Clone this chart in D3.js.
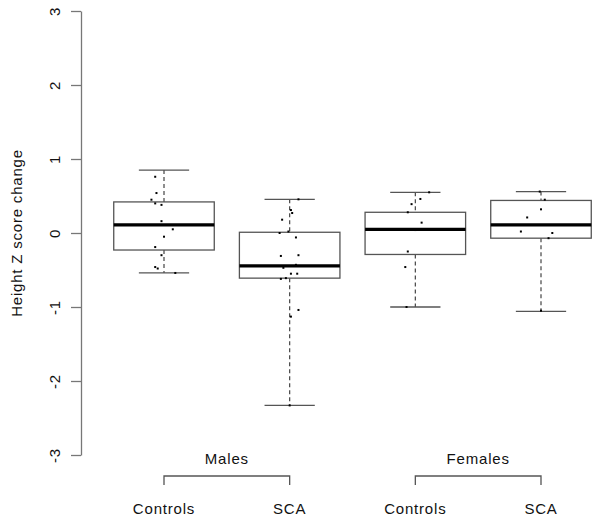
<!DOCTYPE html>
<html>
<head>
<meta charset="utf-8">
<script src="https://cdn.jsdelivr.net/npm/d3@7"></script>
<style>
  body { margin: 0; background: #fff; }
  text { font-family: "Liberation Sans", Arial, sans-serif; fill: #111; letter-spacing: 0.8px; }
</style>
</head>
<body>
<svg id="chart" width="600" height="524"></svg>
<script>
// values
const categories = ["Controls", "SCA", "Controls", "SCA"]
const groups = ["Males", "Females"]
const yTicks = [-3, -2, -1, 0, 1, 2, 3]

const whiskerHigh = [0.85, 0.455, 0.55, 0.56]
const upperQuart = [0.42, 0.01, 0.28, 0.44]
const medians = [0.11, -0.445, 0.05, 0.11]
const lowerQuart = [-0.23, -0.61, -0.29, -0.07]
const whiskerLow = [-0.54, -2.33, -1.0, -1.06]

// raw points and their horizontal jitter (in box units)
const pointsMaleCtrl = [0.76, 0.54, 0.45, 0.40, 0.38, 0.16, 0.05, -0.05, -0.19, -0.30, -0.46, -0.48, -0.54]
const jitterMaleCtrl = [-0.07, -0.06, -0.10, -0.07, -0.02, -0.02, 0.07, 0.0, -0.07, -0.02, -0.07, -0.05, 0.09]
const pointsMaleSca = [0.455, 0.31, 0.27, 0.18, 0.0, 0.02, -0.06, -0.31, -0.30, -0.47, -0.43, -0.55, -0.55, -0.62, -0.61, -1.04, -1.13, -2.33]
const jitterMaleSca = [0.07, 0.01, 0.02, -0.06, -0.08, -0.01, 0.05, -0.07, 0.07, -0.05, 0.05, 0.01, 0.06, -0.07, -0.03, 0.07, 0.01, 0.0]
const pointsFemCtrl = [0.55, 0.46, 0.39, 0.28, 0.14, 0.04, 0.05, -0.25, -0.46, -1.0]
const jitterFemCtrl = [0.11, 0.04, -0.03, -0.06, 0.05, 0.0, 0.04, -0.06, -0.08, -0.07]
const pointsFemSca = [0.56, 0.45, 0.32, 0.21, 0.02, 0.0, -0.07, -1.05]
const jitterFemSca = [-0.01, 0.03, 0.0, -0.11, -0.16, 0.09, 0.06, 0.0]

const allPoints = [pointsMaleCtrl, pointsMaleSca, pointsFemCtrl, pointsFemSca]
const allJitter = [jitterMaleCtrl, jitterMaleSca, jitterFemCtrl, jitterFemSca]

const svg = d3.select("#chart")

const x = d3.scaleLinear().domain([1, 4]).range([164, 541])
const y = d3.scaleLinear().domain([-3, 3]).range([455, 11])
const unit = x(2) - x(1)
const boxW = 0.8 * unit
const capW = 0.4 * unit

// y axis
const yAxis = svg.append("g")
    .attr("transform", "translate(81,0)")
    .call(d3.axisLeft(y).tickValues(yTicks).tickSize(10).tickSizeOuter(0).tickFormat(d => String(d)))
yAxis.attr("font-size", null).attr("font-family", null)
yAxis.select(".domain").attr("stroke", "#777").attr("stroke-width", 1.3)
yAxis.selectAll(".tick line").attr("stroke", "#777").attr("stroke-width", 1.3)
yAxis.selectAll(".tick text")
    .attr("x", null).attr("dy", null)
    .attr("transform", "translate(-21,0) rotate(-90)")
    .attr("text-anchor", "middle")
    .style("font-size", "15px")
    .attr("fill", "#111")

svg.append("text")
    .attr("transform", "translate(22," + y(0) + ") rotate(-90)")
    .attr("text-anchor", "middle")
    .style("font-size", "15px")
    .text("Height Z score change")

// boxes
const boxes = svg.append("g")
categories.forEach(function(cat, i) {
    let cx = x(i + 1)
    // dashed whiskers
    boxes.append("line")
        .attr("x1", cx).attr("x2", cx)
        .attr("y1", y(whiskerHigh[i])).attr("y2", y(upperQuart[i]))
        .attr("stroke", "#444").attr("stroke-width", 1.2).attr("stroke-dasharray", "4,3")
    boxes.append("line")
        .attr("x1", cx).attr("x2", cx)
        .attr("y1", y(lowerQuart[i])).attr("y2", y(whiskerLow[i]))
        .attr("stroke", "#444").attr("stroke-width", 1.2).attr("stroke-dasharray", "4,3")
    // caps
    ;[whiskerHigh[i], whiskerLow[i]].forEach(function(v) {
        boxes.append("line")
            .attr("x1", cx - capW / 2).attr("x2", cx + capW / 2)
            .attr("y1", y(v)).attr("y2", y(v))
            .attr("stroke", "#555").attr("stroke-width", 1.3)
    })
    boxes.append("rect")
        .attr("x", cx - boxW / 2)
        .attr("y", y(upperQuart[i]))
        .attr("width", boxW)
        .attr("height", y(lowerQuart[i]) - y(upperQuart[i]))
        .attr("fill", "none")
        .attr("stroke", "#555").attr("stroke-width", 1.3)
    boxes.append("line")
        .attr("x1", cx - boxW / 2).attr("x2", cx + boxW / 2)
        .attr("y1", y(medians[i])).attr("y2", y(medians[i]))
        .attr("stroke", "#000").attr("stroke-width", 3.2)
})

// jittered points
allPoints.forEach(function(pts, i) {
    svg.append("g").selectAll("rect")
        .data(pts)
        .join("rect")
        .attr("x", (d, j) => x(i + 1 + allJitter[i][j]) - 1)
        .attr("y", d => y(d) - 1)
        .attr("width", 2)
        .attr("height", 2)
        .attr("fill", "#000")
})

// category labels and group brackets
svg.append("g").selectAll("text")
    .data(categories)
    .join("text")
    .attr("x", (d, i) => x(i + 1))
    .attr("y", 514)
    .attr("text-anchor", "middle")
    .style("font-size", "15px")
    .text(d => d)

groups.forEach(function(g, k) {
    let x1 = x(2 * k + 1), x2 = x(2 * k + 2)
    svg.append("path")
        .attr("d", "M" + x1 + ",485V476H" + x2 + "V485")
        .attr("fill", "none")
        .attr("stroke", "#555").attr("stroke-width", 1.3)
    svg.append("text")
        .attr("x", (x1 + x2) / 2)
        .attr("y", 464)
        .attr("text-anchor", "middle")
        .style("font-size", "15px")
        .text(g)
})
</script>
</body>
</html>
